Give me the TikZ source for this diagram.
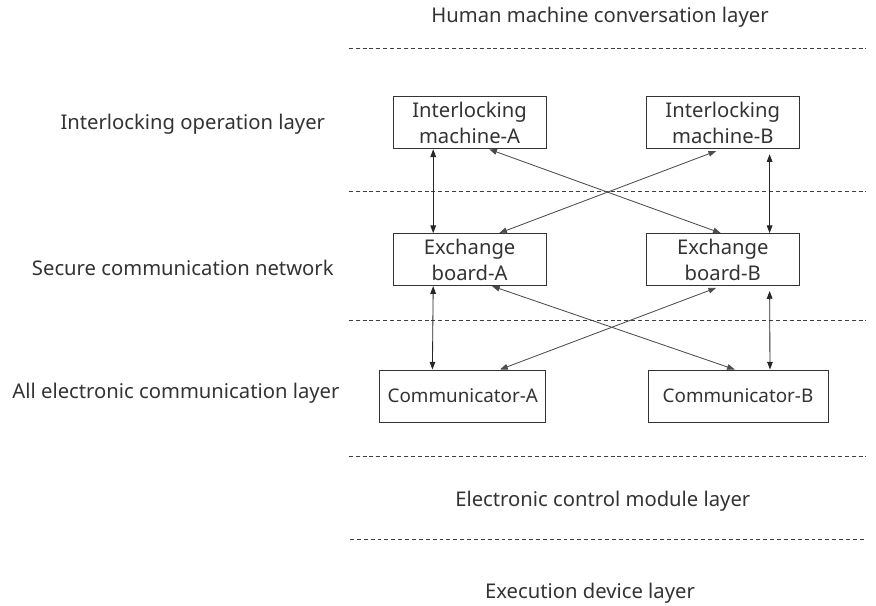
\documentclass[tikz,border=0pt]{standalone}
\usepackage{fontspec}
\setmainfont{Noto Sans}
\usepackage{tikz}
\usetikzlibrary{arrows.meta}

\begin{document}
\begin{tikzpicture}[
    every node/.style={font=\fontsize{14.4}{18.5}\selectfont, text=black!80},
    unit/.style={draw=black!80, line width=0.7pt, minimum width=3.825cm,
        minimum height=1.3cm, align=center, inner sep=1pt},
    comm/.style={unit, font=\fontsize{13.4}{17}\selectfont},
    layer/.style={draw=black!75, line width=0.6pt, dash pattern=on 2.8pt off 2.1pt},
    link/.style={draw=black!85, line width=0.6pt,
        {Triangle[length=5.5pt,width=4pt]}-{Triangle[length=5.5pt,width=4pt]}},
    cross/.style={link, draw=black!70}
]
\useasboundingbox (0,0) rectangle (21.9,-15.15);

\node (lhmi) at (15.0,  -0.43)  {Human machine conversation layer};
\node (lops) at (4.82,  -3.1)   {Interlocking operation layer};
\node (lnet) at (4.57,  -6.7)   {Secure communication network};
\node (lcom) at (4.4,   -9.83)  {All electronic communication layer};
\node (lecm) at (15.07, -12.52) {Electronic control module layer};
\node (lexe) at (14.75, -14.82) {Execution device layer};

\draw[layer] (8.72, -1.2)   -- (21.65, -1.2);
\draw[layer] (8.72, -4.78)  -- (21.65, -4.78);
\draw[layer] (8.72, -8.0)   -- (21.65, -8.0);
\draw[layer] (8.72, -11.42) -- (21.65, -11.42);
\draw[layer] (8.75, -13.48) -- (21.65, -13.48);

\node[unit] (ima) at (11.74, -3.07) {Interlocking\\machine-A};
\node[unit] (imb) at (18.07, -3.07) {Interlocking\\machine-B};
\node[unit] (eba) at (11.74, -6.49) {Exchange\\board-A};
\node[unit] (ebb) at (18.07, -6.49) {Exchange\\board-B};
\node[comm, minimum width=4.15cm] (cma) at (11.57, -9.9) {Communicator-A};
\node[comm, minimum width=4.5cm]  (cmb) at (18.45, -9.9) {Communicator-B};

\draw[link]  ([xshift=-0.91cm]ima.south) -- ([xshift=-0.91cm]eba.north);
\draw[link, shorten <=3.5pt] ([xshift=1.17cm]imb.south) -- ([xshift=1.17cm]ebb.north);
\draw[cross] ([xshift=0.49cm]ima.south) -- ([xshift=-0.05cm]ebb.north);
\draw[cross, shorten <=3.5pt] ([xshift=-0.05cm]imb.south) -- ([xshift=0.74cm]eba.north);

\draw[link]  ([xshift=-0.91cm]eba.south) -- ([xshift=-0.76cm]cma.north);
\draw[link, shorten <=3.5pt] ([xshift=1.17cm]ebb.south) -- ([xshift=0.8cm]cmb.north);
\draw[cross] ([xshift=0.56cm]eba.south) -- ([xshift=-0.08cm]cmb.north);
\draw[cross, shorten <=3.5pt] ([xshift=-0.05cm]ebb.south) -- ([xshift=0.93cm]cma.north);
\end{tikzpicture}
\end{document}
